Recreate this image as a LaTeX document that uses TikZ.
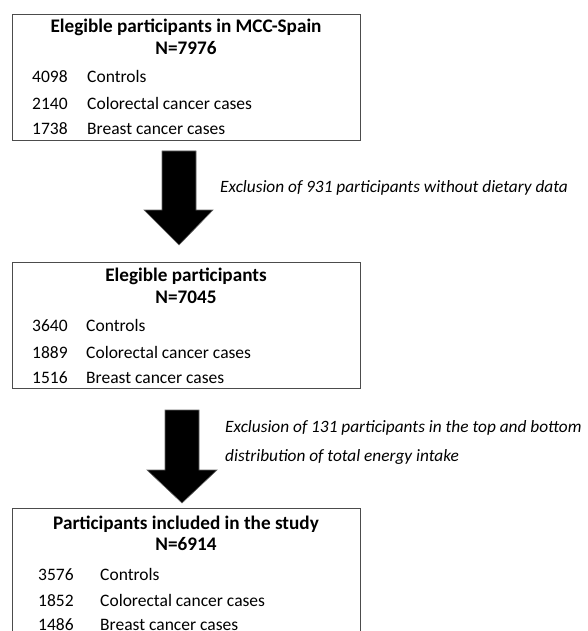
\documentclass[tikz,border=0pt]{standalone}
\usepackage{fontspec}
\setmainfont{Carlito}
\begin{document}
\begin{tikzpicture}[x=1pt,y=-1pt,
  boxline/.style={draw=black!70, line width=1.4pt},
  flowbox/.style={boxline, rectangle, inner sep=0pt, anchor=north west},
  title/.style={font=\fontsize{19.2}{22}\selectfont\bfseries, anchor=base, inner sep=0pt},
  item/.style={font=\fontsize{17.5}{20}\selectfont, anchor=base west, inner sep=0pt},
  note/.style={font=\fontsize{17.3}{20}\selectfont\itshape, anchor=base west, inner sep=0pt},
  bigarrow/.style={fill=black, draw=black!60, line width=0.6pt}]
\useasboundingbox (0,0) rectangle (587,631);
\clip (0,0) rectangle (587,631);

% Box 1
\node[flowbox, minimum width=348pt, minimum height=126pt] (b1) at (12,14) {};
\node[title] (t1) at (186,33) {Elegible participants in MCC-Spain};
\node[title] (n1) at (186,55) {N=7976};
\node[item] (a1) at (32,83) {4098};
\node[item] (a1l) at (87,83) {Controls};
\node[item] (a2) at (32,110) {2140};
\node[item] (a2l) at (87,110) {Colorectal cancer cases};
\node[item] (a3) at (32,135) {1738};
\node[item] (a3l) at (87,135) {Breast cancer cases};

% Arrow 1
\fill[bigarrow] (162,151) -- (196,151) -- (196,210) -- (213,210) -- (179,245) -- (144,210) -- (162,210) -- cycle;
\node[note] (e1) at (220,193) {Exclusion of 931 participants without dietary data};

% Box 2
\node[flowbox, minimum width=348pt, minimum height=126pt] (b2) at (12,262) {};
\node[title] (t2) at (186,281) {Elegible participants};
\node[title] (n2) at (186,303) {N=7045};
\node[item] (c1) at (32,331) {3640};
\node[item] (c1l) at (86,331) {Controls};
\node[item] (c2) at (32,358) {1889};
\node[item] (c2l) at (86,358) {Colorectal cancer cases};
\node[item] (c3) at (32,383) {1516};
\node[item] (c3l) at (86,383) {Breast cancer cases};

% Arrow 2
\fill[bigarrow] (165,410) -- (199,410) -- (199,470) -- (217,470) -- (182,503) -- (147,470) -- (165,470) -- cycle;
\node[note] (e2) at (225,432) {Exclusion of 131 participants in the top and bottom};
\node[note] (e3) at (225,461) {distribution of total energy intake};

% Box 3 (continues below the frame)
\node[flowbox, minimum width=348pt, minimum height=160pt] (b3) at (12,508) {};
\node[title] (t3) at (186,529) {Participants included in the study};
\node[title] (n3) at (186,550) {N=6914};
\node[item] (d1) at (38,580) {3576};
\node[item] (d1l) at (100,580) {Controls};
\node[item] (d2) at (38,606) {1852};
\node[item] (d2l) at (100,606) {Colorectal cancer cases};
\node[item] (d3) at (38,630) {1486};
\node[item] (d3l) at (100,630) {Breast cancer cases};
\end{tikzpicture}
\end{document}
